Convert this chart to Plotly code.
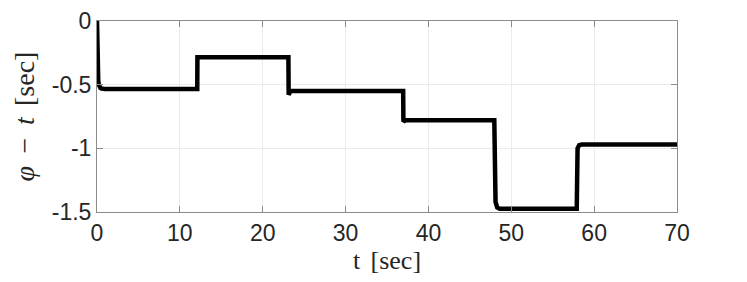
import plotly.graph_objects as go

t = [0, 0.03, 0.06, 0.1, 0.15, 0.22, 0.3, 0.4, 0.55, 0.75, 1.0,
     12.1, 12.12, 23.1, 23.13, 23.35, 36.95, 36.98, 37.2,
     47.95, 48.1, 48.3, 48.6, 57.9, 58.0, 58.2, 58.5, 70]
phi = [0, -0.2, -0.33, -0.42, -0.47, -0.5, -0.515, -0.525, -0.53, -0.533, -0.535,
       -0.535, -0.285, -0.285, -0.58, -0.55, -0.55, -0.79, -0.78,
       -0.78, -1.42, -1.465, -1.475, -1.475, -1.0, -0.975, -0.97, -0.97]

xticks = [0, 10, 20, 30, 40, 50, 60, 70]
yticks = [0, -0.5, -1, -1.5]
yticklabels = ["0", "-0.5", "-1", "-1.5"]

fig = go.Figure()
fig.add_trace(go.Scatter(x=t, y=phi, mode="lines",
                         line=dict(color="black", width=4.5),
                         showlegend=False, hoverinfo="skip"))

axis_common = dict(
    showline=True, linecolor="#8c8c8c", linewidth=1, mirror="ticks",
    ticks="inside", ticklen=6, tickcolor="#8c8c8c", automargin=False,
    showgrid=True, gridcolor="#ebebeb", gridwidth=1, zeroline=False,
    tickfont=dict(family="Liberation Sans, Arial, sans-serif", size=23, color="#262626"),
)

title_font = dict(family="Liberation Serif, DejaVu Serif, serif", size=26, color="#262626")

fig.update_layout(
    width=739, height=274,
    margin=dict(l=89, r=70, t=13, b=70),
    paper_bgcolor="white", plot_bgcolor="white",
    xaxis=dict(range=[0, 70], tickvals=xticks, ticktext=[str(v) for v in xticks],
               title=dict(text="t&#8201;&#8201;[sec]", standoff=4, font=title_font),
               **axis_common),
    yaxis=dict(range=[-1.5, 0], tickvals=yticks, ticktext=yticklabels,
               **axis_common),
)

fig.add_annotation(
    text="<i>φ</i> &#8201;−&#8201; <i>t</i>&#8201;&#8201;[sec]",
    xref="paper", yref="paper", x=(16 - 89) / 580, y=0.5,
    xanchor="center", yanchor="middle", textangle=-90, showarrow=False,
    font=dict(family="Liberation Serif, DejaVu Serif, serif", size=28, color="#262626"),
)

fig.write_html("out.html")
